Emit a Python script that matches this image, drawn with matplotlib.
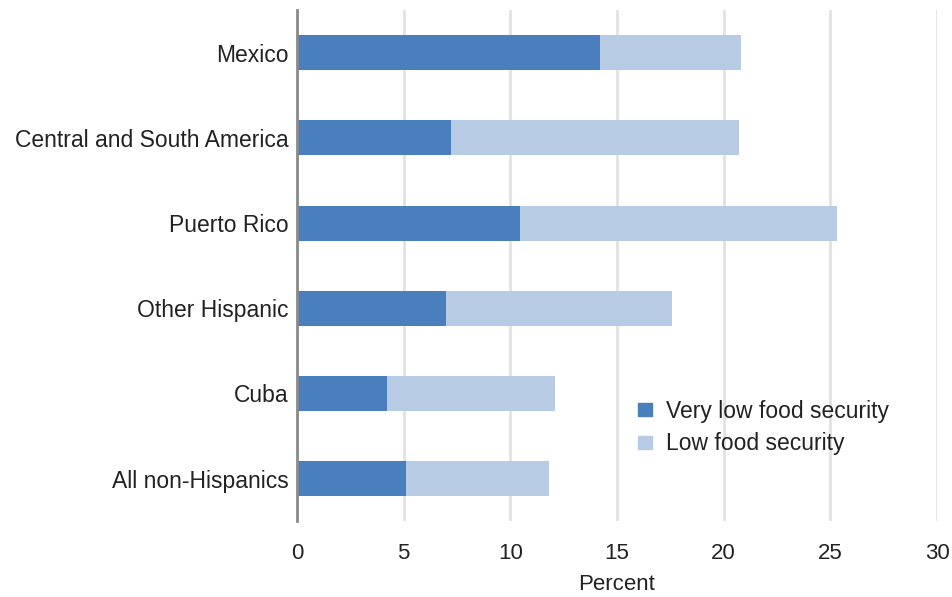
import numpy as np
import matplotlib.pyplot as plt
from matplotlib.patches import Patch

plt.rcParams['font.family'] = ['Liberation Sans', 'DejaVu Sans']

categorias = ['All non-Hispanics', 'Cuba', 'Other Hispanic', 'Puerto Rico',
              'Central and South America', 'Mexico']
muy_baja = [5.1, 4.2, 7.0, 10.45, 7.2, 14.2]
baja_total = [11.8, 12.1, 17.6, 25.3, 20.7, 20.8]
baja = [t - m for t, m in zip(baja_total, muy_baja)]

azul = '#4a7fbd'
celeste = '#b8cbe5'

fig = plt.figure(figsize=(9.53, 5.97), dpi=100)
ax = fig.add_axes([0.3117, 0.127, 0.6715, 0.856])

y = np.arange(len(categorias))
ax.barh(y, muy_baja, height=0.41, color=azul, zorder=3)
ax.barh(y, baja, left=muy_baja, height=0.41, color=celeste, zorder=3)

ax.set_xlim(0, 30)
ax.set_ylim(-0.5, 5.5)
ax.set_xticks(range(0, 31, 5))
ax.set_yticks(y)
ax.set_yticklabels(categorias)
ax.tick_params(axis='both', length=0, labelsize=16, colors='#222222')
ax.tick_params(axis='y', pad=6, labelsize=16.5)
ax.tick_params(axis='x', pad=16)
ax.xaxis.grid(True, color='#e2e2e2', linewidth=2, zorder=0)
ax.set_axisbelow(True)

for lado in ['top', 'right', 'bottom']:
    ax.spines[lado].set_visible(False)
ax.spines['left'].set_color('#8a8a8a')
ax.spines['left'].set_linewidth(2)
ax.spines['left'].set_zorder(4)

ax.set_xlabel('Percent', fontsize=16, color='#222222', labelpad=7)

handles = [Patch(color=azul, label='Very low food security'),
           Patch(color=celeste, label='Low food security')]
ax.legend(handles=handles, loc='upper left', bbox_to_anchor=(0.533, 0.238),
          frameon=False, fontsize=16.5, borderpad=0, borderaxespad=0,
          handlelength=0.6, handleheight=0.5, handletextpad=0.6,
          labelspacing=0.42, labelcolor='#222222')

fig.savefig('out.png', dpi=100)
